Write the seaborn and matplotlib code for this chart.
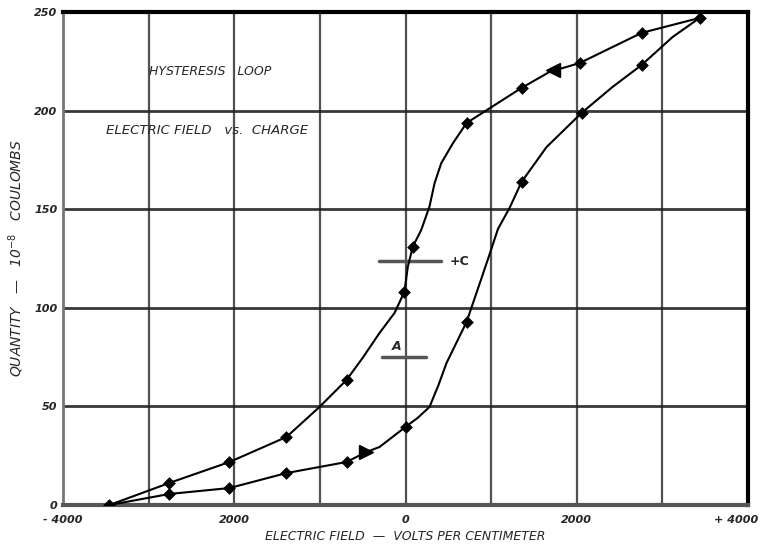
import matplotlib
matplotlib.use("Agg")
import matplotlib.pyplot as plt
import matplotlib.transforms as mtransforms
import seaborn as sns
import pandas as pd

# ---- data ----
# descending branch (upper curve), traced from top-right to bottom-left
upper_x = [3435, 2757, 2033, 1682, 1355, 1005, 713, 553, 417, 339, 280, 183, 85, 27, -12,
           -128, -304, -502, -689, -1005, -1390, -2056, -2757, -3458]
upper_y = [247.0, 239.4, 224.1, 219.6, 211.5, 201.8, 193.7, 183.4, 173.3, 163.1, 151.3, 139.4, 131.0, 120.8, 108.2,
           97.4, 87.2, 74.5, 63.4, 49.7, 34.5, 21.8, 11.2, 0.0]
# ascending branch (lower curve), traced from bottom-left to top-right
lower_x = [-3458, -2757, -2056, -1390, -689, -456, -304, 0, 140, 280, 386, 479, 713, 864,
           981, 1080, 1215, 1355, 1647, 2056, 2418, 2757, 3119, 3435]
lower_y = [0.0, 5.6, 8.6, 16.2, 21.8, 26.9, 29.4, 39.6, 44.1, 49.7, 60.9, 72.0, 92.8, 112.0,
           127.0, 140.0, 150.6, 163.8, 181.5, 198.8, 212.0, 223.1, 237.3, 247.0]
# measured points
pts_upper_x = [3435, 2757, 2033, 1355, 713, 85, -12, -689, -1390, -2056, -2757, -3458]
pts_upper_y = [247.0, 239.4, 224.1, 211.5, 193.7, 131.0, 108.2, 63.4, 34.5, 21.8, 11.2, 0.0]
pts_lower_x = [-2757, -2056, -1390, -689, 0, 713, 1355, 2056, 2757]
pts_lower_y = [5.6, 8.6, 16.2, 21.8, 39.6, 92.8, 163.8, 198.8, 223.1]
# direction arrows
arrow_left = (1717, 220.6)
arrow_right = (-456, 26.9)

x_ticks = [-4000, -2000, 0, 2000, 4000]
x_tick_labels = ["- 4000", "2000", "0", "2000", "+ 4000"]
y_ticks = [0, 50, 100, 150, 200, 250]
y_tick_labels = ["0", "50", "100", "150", "200", "250"]

sns.set_style("white")
plt.rcParams["font.family"] = ["DejaVu Sans"]

fig = plt.figure(figsize=(7.65, 5.6), dpi=100)
ax = fig.add_axes([63 / 765, 1 - 505 / 560, (748 - 63) / 765, (505 - 12) / 560])

# grid
for gx in [-3000, -2000, -1000, 0, 1000, 2000, 3000]:
    ax.axvline(gx, color="#333333", lw=1.6, alpha=0.85, zorder=1)
for gy in [50, 100, 150, 200]:
    ax.axhline(gy, color="#222222", lw=2.0, alpha=0.9, zorder=1)

up = pd.DataFrame({"x": upper_x, "y": upper_y})
lo = pd.DataFrame({"x": lower_x, "y": lower_y})
sns.lineplot(data=up, x="x", y="y", sort=False, color="black", lw=1.5, ax=ax, zorder=3)
sns.lineplot(data=lo, x="x", y="y", sort=False, color="black", lw=1.5, ax=ax, zorder=3)

pu = pd.DataFrame({"x": pts_upper_x, "y": pts_upper_y})
pl = pd.DataFrame({"x": pts_lower_x, "y": pts_lower_y})
sns.scatterplot(data=pu, x="x", y="y", color="black", marker="D", s=36, edgecolor="black", ax=ax, zorder=4)
sns.scatterplot(data=pl, x="x", y="y", color="black", marker="D", s=36, edgecolor="black", ax=ax, zorder=4)
ax.plot([arrow_left[0]], [arrow_left[1]], marker="<", ms=10, color="black", zorder=5)
ax.plot([arrow_right[0]], [arrow_right[1]], marker=">", ms=10, color="black", zorder=5)

# annotations
ax.plot([-310, 420], [123.7, 123.7], color="#555555", lw=2.5, zorder=2)
ax.text(520, 123.7, "+C", fontsize=9, fontweight="bold", va="center", ha="left")
ax.plot([-280, 245], [75, 75], color="#555555", lw=2.5, zorder=2)
ax.text(-105, 77, "A", fontsize=9, fontstyle="italic", fontweight="bold", va="bottom", ha="center")
ax.text(-2990, 219.6, "HYSTERESIS   LOOP", fontsize=9, fontstyle="italic", va="center", ha="left")
ax.text(-3493, 190, "ELECTRIC FIELD   vs.  CHARGE", fontsize=9.5, fontstyle="italic", va="center", ha="left")

ax.set_xlim(-4000, 4000)
ax.set_ylim(0, 250)
ax.set_xticks(x_ticks)
ax.set_xticklabels(x_tick_labels, fontsize=8, fontstyle="italic", fontweight="bold")
ax.set_yticks(y_ticks)
ax.set_yticklabels(y_tick_labels, fontsize=8, fontstyle="italic", fontweight="bold")
ax.tick_params(axis="x", length=0, pad=7)
ax.tick_params(axis="y", length=0, pad=4)
ax.set_xlabel("ELECTRIC FIELD  —  VOLTS PER CENTIMETER", fontsize=9, fontstyle="italic", labelpad=4)
ax.set_ylabel("QUANTITY   —   10$^{-8}$   COULOMBS", fontsize=10, fontstyle="italic", labelpad=6)

# nudge the last x tick label inward so it stays inside the figure
last = ax.xaxis.get_major_ticks()[-1].label1
last.set_transform(last.get_transform() + mtransforms.ScaledTranslation(-12 / 100, 0, fig.dpi_scale_trans))

ax.spines["top"].set_linewidth(3)
ax.spines["top"].set_color("black")
ax.spines["right"].set_linewidth(3)
ax.spines["right"].set_color("black")
ax.spines["left"].set_linewidth(2)
ax.spines["left"].set_color("#777777")
ax.spines["bottom"].set_linewidth(3)
ax.spines["bottom"].set_color("#555555")

fig.savefig("out.png", dpi=100)
